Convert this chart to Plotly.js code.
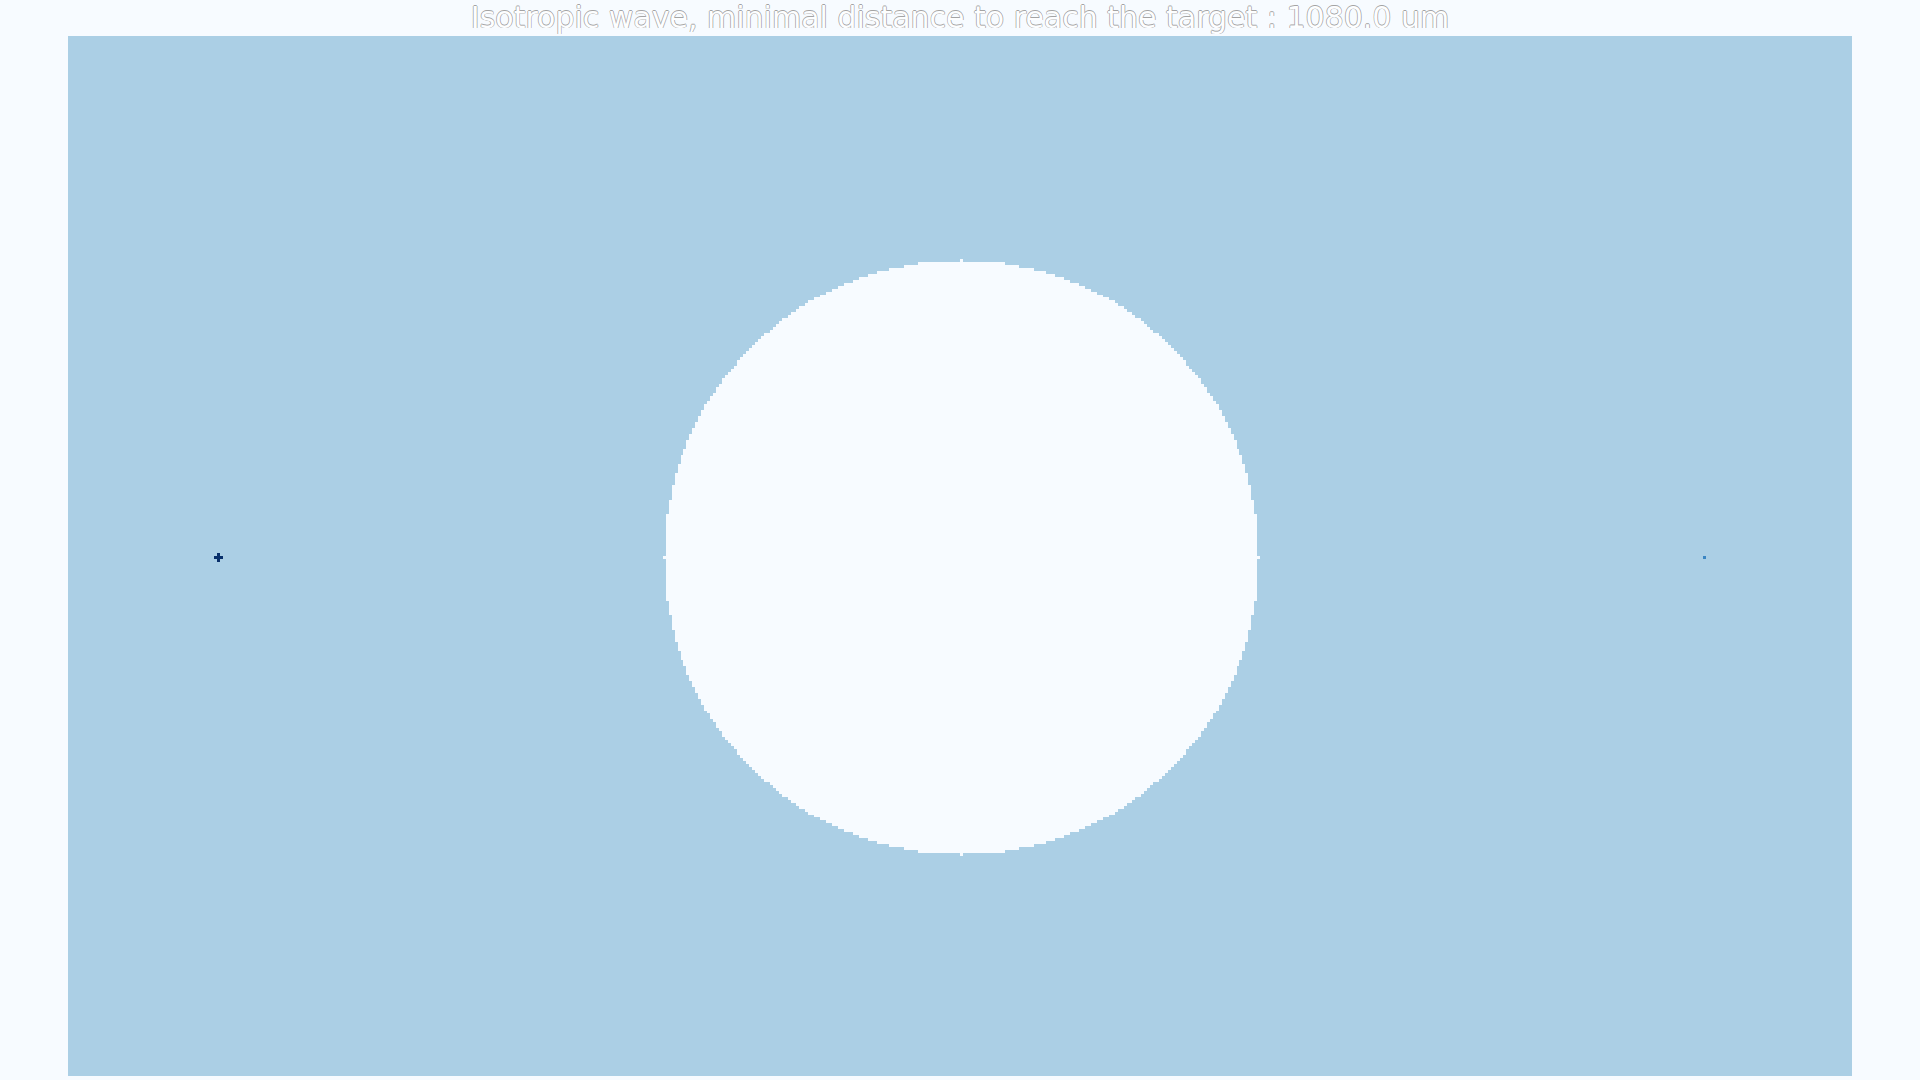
<!DOCTYPE html>
<html>
<head>
<meta charset="utf-8">
<script src="https://cdn.plot.ly/plotly-3.0.1.min.js"></script>
<style>
  html, body { margin: 0; padding: 0; background: #f7fbff; }
  #chart { width: 1920px; height: 1080px; }
</style>
</head>
<body>
<div id="chart"></div>
<script>
// Simulation grid (cells of 2 um): columns, rows
const gridSize = [600, 350];
// Circular obstacle: centre column, centre row, radius (cells)
const obstacle = [300, 175, 100];
// Source cells (plus shape) and target cell: [column, row]
const sourceCells = [[50, 175], [49, 175], [51, 175], [50, 174], [50, 176]];
const targetCells = [[550, 175]];
// Cell state values
const stateValues = { obstacle: 0, free: 1, target: 2, source: 3 };
const stateColors = ['#f7fbff', '#abcfe5', '#3b86c3', '#08306b'];
const titleText = 'Isotropic wave, minimal distance to reach the target : 1080.0 um';

const nx = gridSize[0], ny = gridSize[1];
const z = [];
for (let j = 0; j < ny; j++) {
  const row = new Array(nx);
  for (let i = 0; i < nx; i++) {
    const dx = i - obstacle[0], dy = j - obstacle[1];
    row[i] = (dx * dx + dy * dy <= obstacle[2] * obstacle[2]) ? stateValues.obstacle : stateValues.free;
  }
  z.push(row);
}
targetCells.forEach(c => { z[c[1]][c[0]] = stateValues.target; });
sourceCells.forEach(c => { z[c[1]][c[0]] = stateValues.source; });

const n = stateColors.length;
const colorscale = [];
stateColors.forEach((col, k) => {
  colorscale.push([k / n, col]);
  colorscale.push([(k + 1) / n, col]);
});

const trace = {
  type: 'heatmap',
  z: z,
  zmin: -0.5,
  zmax: n - 0.5,
  colorscale: colorscale,
  showscale: false,
  zsmooth: false,
  hoverinfo: 'skip'
};

const layout = {
  width: 1920,
  height: 1080,
  paper_bgcolor: '#f7fbff',
  plot_bgcolor: '#abcfe5',
  margin: { l: 68, r: 68, t: 36, b: 4, pad: 0 },
  title: {
    text: titleText,
    font: {
      family: 'DejaVu Sans, sans-serif',
      size: 30,
      color: '#fdfeff',
      shadow: '0.7px 0 0 #a4a4a4, -0.7px 0 0 #a4a4a4, 0 0.7px 0 #a4a4a4, 0 -0.7px 0 #a4a4a4'
    },
    x: 0.5,
    xanchor: 'center',
    yref: 'container',
    y: 0.984,
    yanchor: 'middle'
  },
  xaxis: { visible: false, range: [-0.5, nx - 0.5], fixedrange: true },
  yaxis: { visible: false, range: [ny - 0.5, -0.5], fixedrange: true },
  showlegend: false
};

Plotly.newPlot('chart', [trace], layout, { staticPlot: true, displayModeBar: false });
</script>
</body>
</html>
